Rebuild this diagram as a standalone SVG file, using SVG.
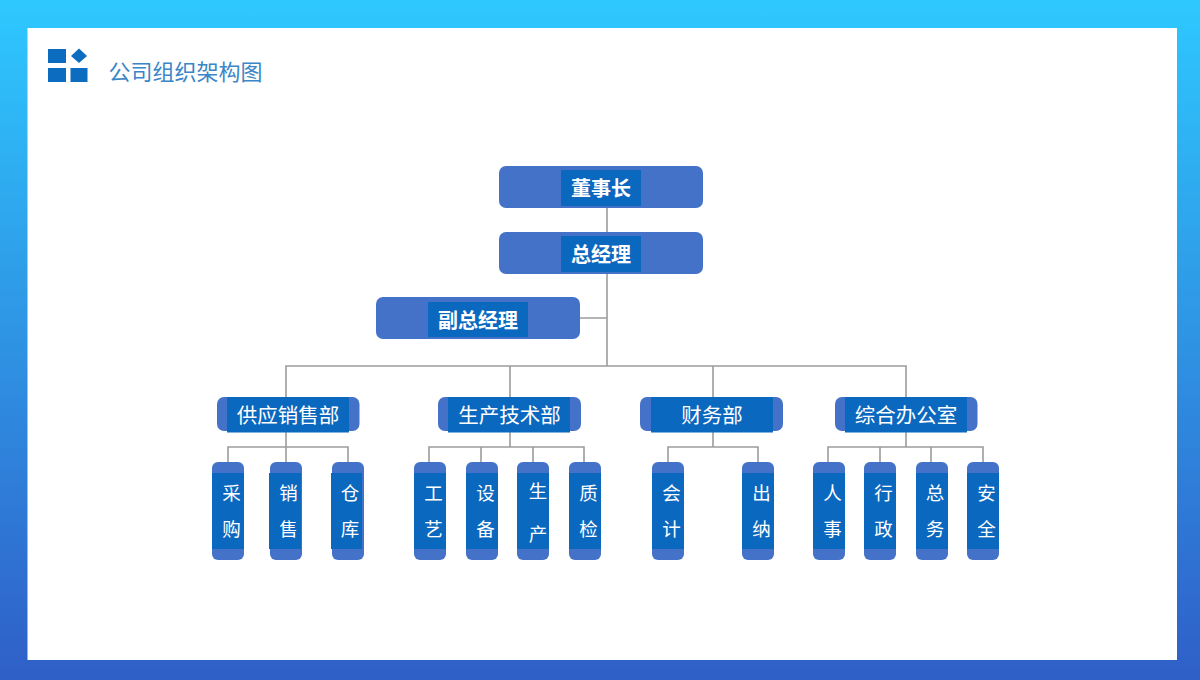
<svg xmlns="http://www.w3.org/2000/svg" width="1200" height="680" viewBox="0 0 1200 680">
<style>
text{font-family:"Noto Sans CJK SC","Noto Sans",sans-serif;text-anchor:middle;fill:#fff}
.o{fill:#4472c8}
.i{fill:#0b68bf}
.t{font-size:20px;font-weight:700}
.d{font-size:20.5px}
.s{font-size:18.5px}
.c{fill:none;stroke:#9c9c9c;stroke-width:1.6}
</style>
<defs>
<linearGradient id="bg" x1="0" y1="0" x2="0" y2="1"><stop offset="0" stop-color="#2ec8ff"/><stop offset="1" stop-color="#2f5fc8"/></linearGradient>
</defs>
<rect width="1200" height="680" fill="url(#bg)"/>
<rect x="27.500" y="28" width="1149.500" height="632" fill="#fff"/>
<g id="logo" fill="#0b6cc0">
<rect x="48" y="49" width="18" height="14"/>
<path d="M79 48.500L87 56L79 63L71 56Z"/>
<rect x="48" y="68" width="18" height="14"/>
<rect x="70.500" y="68" width="17" height="14"/>
</g>
<text id="title" x="185.500" y="79.500" style="font-size:22px;font-weight:400;fill:#3a86c6">公司组织架构图</text>
<g id="connectors" class="c">
<path class="c" d="M607 208V366M580 318H607M286 397V366H906V397M510 366V397M713 366V397"/>
<path class="c" d="M286 432V462M228 462V447H348V462"/>
<path class="c" d="M510 432V447M429 462V447H584V462M481 447V462M533 447V462"/>
<path class="c" d="M713 432V447M668 462V447H758V462"/>
<path class="c" d="M906 432V447M828 462V447H983V462M880 447V462M931 447V462"/>
</g>
<g id="n1"><rect class="o" x="499" y="166" width="204" height="42" rx="7"/><rect class="i" x="561" y="170" width="80" height="36"/><text class="t" x="601" y="196">董事长</text></g>
<g id="n2"><rect class="o" x="499" y="232" width="204" height="42" rx="7"/><rect class="i" x="561" y="236" width="80" height="36"/><text class="t" x="601" y="262">总经理</text></g>
<g id="n3"><rect class="o" x="376" y="297" width="204" height="42" rx="7"/><rect class="i" x="428" y="302" width="100" height="35"/><text class="t" x="478" y="327.500">副总经理</text></g>
<g id="d1"><rect class="o" x="217" y="397" width="142.500" height="34" rx="7"/><rect class="i" x="227" y="397" width="122" height="35.500"/><text class="d" x="288" y="423">供应销售部</text></g>
<g id="d2"><rect class="o" x="438" y="397" width="143" height="34" rx="7"/><rect class="i" x="448" y="397" width="122" height="35.500"/><text class="d" x="509.500" y="423">生产技术部</text></g>
<g id="d3"><rect class="o" x="640" y="397" width="143" height="34" rx="7"/><rect class="i" x="651" y="397" width="122" height="35.500"/><text class="d" x="712" y="423">财务部</text></g>
<g id="d4"><rect class="o" x="835" y="397" width="142.500" height="34" rx="7"/><rect class="i" x="845" y="397" width="122" height="35.500"/><text class="d" x="906" y="423">综合办公室</text></g>
<g id="s1"><rect class="o" x="212" y="462" width="32" height="98" rx="6"/><rect class="i" x="212" y="473" width="32" height="76"/><text class="s" x="231.500" y="500">采</text><text class="s" x="231.500" y="535.500">购</text></g>
<g id="s2"><rect class="o" x="270" y="462" width="32" height="98" rx="6"/><rect class="i" x="269" y="473" width="32" height="76"/><text class="s" x="288.500" y="500">销</text><text class="s" x="288.500" y="535.500">售</text></g>
<g id="s3"><rect class="o" x="332" y="462" width="32" height="98" rx="6"/><rect class="i" x="331" y="473" width="31" height="76"/><text class="s" x="350" y="500">仓</text><text class="s" x="350" y="535.500">库</text></g>
<g id="s4"><rect class="o" x="414" y="462" width="32" height="98" rx="6"/><rect class="i" x="414" y="473" width="32" height="76"/><text class="s" x="433.500" y="500">工</text><text class="s" x="433.500" y="535.500">艺</text></g>
<g id="s5"><rect class="o" x="466" y="462" width="32" height="98" rx="6"/><rect class="i" x="466" y="473" width="32" height="76"/><text class="s" x="485.500" y="500">设</text><text class="s" x="485.500" y="535.500">备</text></g>
<g id="s6"><rect class="o" x="517" y="462" width="32" height="98" rx="6"/><rect class="i" x="517" y="473" width="32" height="76"/><text class="s" x="538" y="498">生</text><text class="s" x="538" y="540.500">产</text></g>
<g id="s7"><rect class="o" x="569" y="462" width="32" height="98" rx="6"/><rect class="i" x="569" y="473" width="32" height="76"/><text class="s" x="588.500" y="500">质</text><text class="s" x="588.500" y="535.500">检</text></g>
<g id="s8"><rect class="o" x="652" y="462" width="32" height="98" rx="6"/><rect class="i" x="652" y="473" width="32" height="76"/><text class="s" x="671.500" y="500">会</text><text class="s" x="671.500" y="535.500">计</text></g>
<g id="s9"><rect class="o" x="742" y="462" width="32" height="98" rx="6"/><rect class="i" x="742" y="473" width="32" height="76"/><text class="s" x="761.500" y="500">出</text><text class="s" x="761.500" y="535.500">纳</text></g>
<g id="s10"><rect class="o" x="813" y="462" width="32" height="98" rx="6"/><rect class="i" x="813" y="473" width="32" height="76"/><text class="s" x="832.500" y="500">人</text><text class="s" x="832.500" y="535.500">事</text></g>
<g id="s11"><rect class="o" x="864" y="462" width="32" height="98" rx="6"/><rect class="i" x="864" y="473" width="32" height="76"/><text class="s" x="883.500" y="500">行</text><text class="s" x="883.500" y="535.500">政</text></g>
<g id="s12"><rect class="o" x="916" y="462" width="32" height="98" rx="6"/><rect class="i" x="916" y="473" width="32" height="76"/><text class="s" x="935" y="500">总</text><text class="s" x="935" y="535.500">务</text></g>
<g id="s13"><rect class="o" x="967" y="462" width="32" height="98" rx="6"/><rect class="i" x="967" y="473" width="32" height="76"/><text class="s" x="986.500" y="500">安</text><text class="s" x="986.500" y="535.500">全</text></g>
</svg>
